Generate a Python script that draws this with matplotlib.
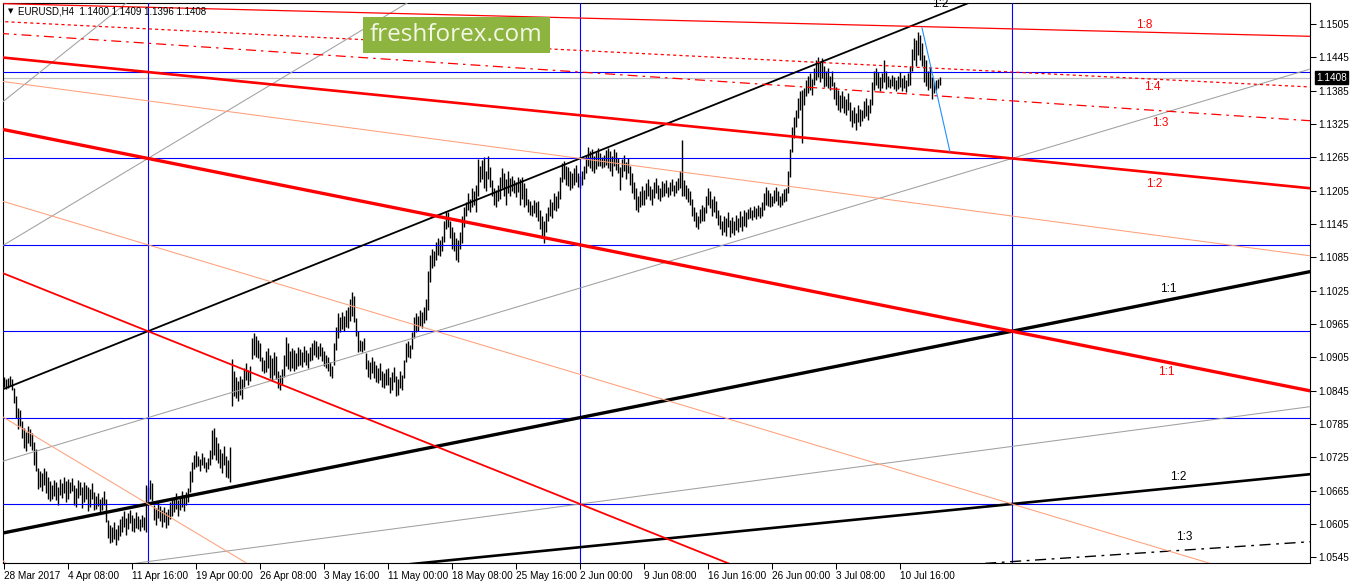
import numpy as np
import matplotlib.pyplot as plt
from matplotlib.patches import Rectangle

plt.rcParams['font.family'] = ['Liberation Sans', 'DejaVu Sans']

symbol = 'EURUSD,H4'
last_ohlc = [1.1400, 1.1409, 1.1396, 1.1408]

# H4 bar highs and lows, in pips (1.0000 = 10000), one value per bar from 28 Mar 2017
highs_pips = [
    10870, 10866, 10868, 10872, 10866, 10850, 10836, 10814, 10810, 10790,
    10778, 10770, 10782, 10776, 10768, 10752, 10740, 10705, 10700, 10696,
    10706, 10700, 10690, 10682, 10676, 10684, 10680, 10672, 10686, 10678,
    10690, 10682, 10686, 10680, 10688, 10676, 10670, 10684, 10680, 10672,
    10680, 10676, 10672, 10668, 10678, 10662, 10656, 10660, 10650, 10654,
    10664, 10650, 10612, 10604, 10600, 10608, 10596, 10604, 10614, 10620,
    10628, 10616, 10624, 10630, 10622, 10616, 10626, 10620, 10614, 10622,
    10618, 10676, 10672, 10684, 10678, 10640, 10634, 10646, 10638, 10630,
    10636, 10626, 10632, 10644, 10650, 10652, 10660, 10648, 10656, 10664,
    10658, 10662, 10670, 10700, 10716, 10730, 10736, 10728, 10722, 10732,
    10726, 10716, 10724, 10738, 10774, 10778, 10762, 10750, 10740, 10732,
    10746, 10728, 10720, 10744, 10902, 10880, 10870, 10862, 10872, 10866,
    10886, 10894, 10882, 10890, 10940, 10948, 10944, 10936, 10930, 10906,
    10900, 10916, 10922, 10910, 10904, 10914, 10908, 10880, 10874, 10884,
    10910, 10942, 10930, 10916, 10922, 10918, 10912, 10924, 10920, 10914,
    10926, 10918, 10912, 10924, 10930, 10936, 10934, 10926, 10930, 10924,
    10916, 10910, 10906, 10896, 10890, 10930, 10960, 10984, 10978, 10986,
    10980, 10990, 10996, 11010, 11022, 11016, 10976, 10952, 10936, 10934,
    10940, 10912, 10900, 10896, 10906, 10898, 10892, 10886, 10894, 10880,
    10876, 10884, 10886, 10870, 10878, 10888, 10872, 10866, 10880, 10874,
    10900, 10930, 10934, 10928, 10950, 10978, 10984, 10980, 10990, 10986,
    10996, 11010, 11060, 11090, 11100, 11096, 11112, 11120, 11116, 11124,
    11150, 11168, 11166, 11150, 11140, 11130, 11120, 11116, 11130, 11160,
    11176, 11184, 11200, 11190, 11210, 11204, 11216, 11262, 11250, 11260,
    11266, 11240, 11268, 11248, 11224, 11210, 11206, 11216, 11230, 11246,
    11236, 11226, 11240, 11228, 11232, 11224, 11220, 11230, 11226, 11230,
    11218, 11210, 11190, 11186, 11180, 11188, 11184, 11186, 11170, 11160,
    11150, 11164, 11176, 11190, 11184, 11200, 11196, 11204, 11230, 11254,
    11258, 11250, 11248, 11240, 11236, 11246, 11252, 11236, 11232, 11240,
    11250, 11270, 11284, 11276, 11280, 11268, 11274, 11282, 11272, 11266,
    11270, 11278, 11282, 11276, 11268, 11280, 11274, 11264, 11248, 11262,
    11270, 11256, 11264, 11250, 11236, 11220, 11210, 11196, 11204, 11214,
    11206, 11218, 11226, 11214, 11208, 11220, 11228, 11216, 11210, 11222,
    11218, 11224, 11212, 11220, 11226, 11216, 11222, 11228, 11240, 11296,
    11224, 11216, 11210, 11204, 11190, 11176, 11166, 11160, 11172, 11180,
    11176, 11196, 11210, 11204, 11190, 11196, 11186, 11170, 11162, 11150,
    11160, 11156, 11166, 11152, 11158, 11150, 11162, 11156, 11168, 11160,
    11170, 11166, 11172, 11176, 11170, 11178, 11174, 11180, 11176, 11184,
    11200, 11212, 11206, 11200, 11196, 11206, 11212, 11204, 11196, 11200,
    11208, 11210, 11240, 11280, 11320, 11338, 11350, 11372, 11384, 11386,
    11390, 11404, 11412, 11416, 11406, 11426, 11440, 11446, 11436, 11444,
    11430, 11420, 11426, 11412, 11420, 11400, 11392, 11386, 11378, 11384,
    11376, 11370, 11380, 11364, 11350, 11356, 11344, 11360, 11352, 11350,
    11366, 11372, 11360, 11370, 11400, 11420, 11426, 11418, 11410, 11416,
    11440, 11420, 11412, 11406, 11414, 11410, 11404, 11412, 11418, 11408,
    11414, 11404, 11416, 11430, 11460, 11480, 11476, 11490, 11486, 11470,
    11450, 11440, 11420, 11428, 11410, 11400, 11404, 11406, 11409,
]
lows_pips = [
    10852, 10848, 10850, 10854, 10846, 10822, 10796, 10776, 10782, 10760,
    10742, 10736, 10750, 10745, 10738, 10712, 10700, 10668, 10672, 10664,
    10676, 10660, 10650, 10646, 10650, 10656, 10648, 10640, 10658, 10652,
    10660, 10644, 10650, 10660, 10664, 10640, 10636, 10652, 10658, 10634,
    10645, 10650, 10628, 10636, 10650, 10630, 10632, 10638, 10626, 10630,
    10640, 10608, 10580, 10570, 10572, 10578, 10568, 10576, 10584, 10590,
    10600, 10586, 10596, 10606, 10592, 10590, 10598, 10596, 10592, 10600,
    10594, 10590, 10640, 10650, 10646, 10612, 10604, 10616, 10610, 10600,
    10608, 10598, 10604, 10614, 10620, 10626, 10632, 10620, 10630, 10636,
    10628, 10640, 10644, 10662, 10680, 10704, 10708, 10710, 10700, 10712,
    10706, 10698, 10704, 10712, 10722, 10730, 10720, 10714, 10706, 10696,
    10712, 10690, 10688, 10680, 10818, 10836, 10832, 10826, 10838, 10830,
    10852, 10864, 10856, 10862, 10902, 10910, 10906, 10904, 10898, 10880,
    10876, 10878, 10886, 10868, 10862, 10874, 10866, 10850, 10846, 10856,
    10870, 10890, 10884, 10880, 10886, 10880, 10884, 10890, 10892, 10888,
    10896, 10892, 10886, 10898, 10900, 10910, 10906, 10902, 10908, 10898,
    10890, 10886, 10880, 10872, 10868, 10892, 10918, 10940, 10950, 10956,
    10952, 10960, 10958, 10970, 10980, 10968, 10944, 10914, 10916, 10914,
    10918, 10884, 10870, 10866, 10876, 10868, 10860, 10858, 10864, 10852,
    10850, 10856, 10856, 10840, 10846, 10860, 10836, 10838, 10850, 10846,
    10868, 10896, 10906, 10904, 10920, 10940, 10950, 10952, 10962, 10958,
    10966, 10972, 10990, 11040, 11066, 11070, 11080, 11090, 11088, 11096,
    11112, 11136, 11140, 11120, 11100, 11096, 11080, 11076, 11100, 11110,
    11140, 11160, 11170, 11166, 11176, 11180, 11166, 11196, 11220, 11226,
    11210, 11204, 11226, 11212, 11196, 11180, 11176, 11186, 11190, 11210,
    11196, 11180, 11200, 11196, 11204, 11200, 11194, 11202, 11180, 11190,
    11176, 11180, 11166, 11162, 11160, 11164, 11158, 11150, 11136, 11120,
    11110, 11130, 11150, 11160, 11156, 11170, 11168, 11174, 11190, 11220,
    11226, 11216, 11214, 11206, 11210, 11216, 11220, 11212, 11210, 11216,
    11226, 11236, 11250, 11246, 11240, 11236, 11244, 11250, 11250, 11246,
    11248, 11252, 11246, 11240, 11232, 11250, 11242, 11236, 11206, 11230,
    11240, 11226, 11236, 11216, 11200, 11190, 11170, 11166, 11176, 11180,
    11180, 11190, 11196, 11188, 11180, 11192, 11200, 11190, 11186, 11194,
    11196, 11200, 11194, 11198, 11204, 11196, 11200, 11206, 11210, 11196,
    11196, 11190, 11184, 11180, 11160, 11150, 11140, 11136, 11146, 11150,
    11150, 11164, 11180, 11174, 11160, 11166, 11156, 11144, 11136, 11126,
    11130, 11124, 11140, 11122, 11128, 11126, 11134, 11130, 11140, 11132,
    11142, 11140, 11154, 11156, 11152, 11158, 11154, 11160, 11156, 11160,
    11170, 11180, 11178, 11176, 11178, 11182, 11186, 11180, 11176, 11180,
    11184, 11186, 11200, 11230, 11274, 11300, 11320, 11336, 11350, 11290,
    11360, 11376, 11380, 11386, 11378, 11396, 11404, 11410, 11400, 11408,
    11392, 11394, 11390, 11386, 11394, 11370, 11360, 11350, 11346, 11354,
    11344, 11342, 11350, 11330, 11320, 11326, 11314, 11328, 11322, 11330,
    11336, 11340, 11332, 11344, 11360, 11386, 11396, 11390, 11384, 11390,
    11400, 11388, 11392, 11390, 11394, 11388, 11384, 11388, 11392, 11384,
    11390, 11382, 11394, 11396, 11420, 11440, 11430, 11450, 11440, 11430,
    11400, 11394, 11386, 11390, 11370, 11380, 11386, 11390, 11396,
]

tick_bars = [0, 32, 64, 96, 128, 160, 192, 224, 256, 288, 320, 352, 384, 416, 448]
tick_labels = ['28 Mar 2017', '4 Apr 08:00', '11 Apr 16:00', '19 Apr 00:00',
               '26 Apr 08:00', '3 May 16:00', '11 May 00:00', '18 May 08:00',
               '25 May 16:00', '2 Jun 00:00', '9 Jun 08:00', '16 Jun 16:00',
               '26 Jun 00:00', '3 Jul 08:00', '10 Jul 16:00']
price_ticks = [1.0545, 1.0605, 1.0665, 1.0725, 1.0785, 1.0845, 1.0905, 1.0965,
               1.1025, 1.1085, 1.1145, 1.1205, 1.1265, 1.1325, 1.1385, 1.1445, 1.1505]

# gann grid: cross point and cell size
gann_bar = 504
gann_price = 1.0952
grid_bars = 216
grid_price = 0.01555

# fan ratios (price cells per time cell)
up_ratios = [4, 3, 2, 1.5, 1, 2 / 3, 1 / 2, 1 / 3]
down_ratios = [4, 3, 2, 1.5, 1, 2 / 3, 1 / 2, 1 / 3, 1 / 4, 1 / 8]

# blue trend line drawn from the 11 Jul high
trend_bars = [459, 473]
trend_prices = [1.1498, 1.1275]

# ---- styles
GRAY = '#A0A0A0'
SALMON = '#FFA07A'
dashdot = (0, (8, 4, 2, 4))
up_styles = [(GRAY, 0.75, '-'), (GRAY, 0.75, '-'), ('black', 1.3, '-'), (GRAY, 0.75, '-'),
             ('black', 2.4, '-'), (GRAY, 0.75, '-'), ('black', 1.9, '-'), ('black', 1.0, dashdot)]
down_styles = [(SALMON, 0.75, '-'), (SALMON, 0.75, '-'), ('red', 1.3, '-'), (SALMON, 0.75, '-'),
               ('red', 2.4, '-'), (SALMON, 0.75, '-'), ('red', 1.9, '-'), ('red', 0.9, dashdot),
               ('red', 0.9, (0, (2.5, 2.5))), ('red', 0.9, '-')]

fig = plt.figure(figsize=(13.5, 5.84), dpi=100)
ax = fig.add_axes([3 / 1350, 21 / 584, 1307 / 1350, 560 / 584])
ax.set_xlim(-0.5, 653)
ax.set_ylim(1.05348, 1.15428)

n = min(len(highs_pips), len(lows_pips))
bars = np.arange(n)
highs = np.array(highs_pips[:n]) / 10000
lows = np.array(lows_pips[:n]) / 10000

# bid line
ax.axhline(last_ohlc[3], color='#C0C0C0', lw=0.9, zorder=1)

ax.vlines(bars, lows, highs, colors='black', lw=1.0, zorder=2)

# gann grid
for k in range(-2, 4):
    ax.axhline(gann_price + k * grid_price, color='#0000FF', lw=0.8, zorder=3)
for k in range(-2, 1):
    ax.axvline(gann_bar + k * grid_bars, color='#0000FF', lw=0.8, zorder=3)

# gann fans
o_bar = gann_bar - 4 * grid_bars
unit = grid_price / grid_bars
x_end = 700
for r, (c, lw, ls) in zip(up_ratios, up_styles):
    p0 = gann_price - 4 * grid_price
    ax.plot([o_bar, x_end], [p0, p0 + r * unit * (x_end - o_bar)], color=c, lw=lw, ls=ls, zorder=4)
for r, (c, lw, ls) in zip(down_ratios, down_styles):
    p0 = gann_price + 4 * grid_price
    ax.plot([o_bar, x_end], [p0, p0 - r * unit * (x_end - o_bar)], color=c, lw=lw, ls=ls, zorder=4)

# fan labels
lab_up = [(2, '1:2', 468, 10), (1, '1:1', 582, 11), (1 / 2, '1:2', 587, 10), (1 / 3, '1:3', 590, 13)]
lab_down = [(1 / 8, '1:8', 570, 7), (1 / 4, '1:4', 574, -8), (1 / 3, '1:3', 578, -12),
            (1 / 2, '1:2', 575, -11), (1, '1:1', 581, -10)]
for r, t, b, off in lab_up:
    p = gann_price - 4 * grid_price + r * unit * (b - o_bar)
    ax.annotate(t, (b, p), xytext=(0, off), textcoords='offset pixels', ha='center', va='center',
                fontsize=8.5, color='black', zorder=5, annotation_clip=False)
for r, t, b, off in lab_down:
    p = gann_price + 4 * grid_price - r * unit * (b - o_bar)
    ax.annotate(t, (b, p), xytext=(0, off), textcoords='offset pixels', ha='center', va='center',
                fontsize=8.5, color='red', zorder=5)

ax.plot(trend_bars, trend_prices, color='#1E90FF', lw=0.8, zorder=5)

# axes look
for s in ax.spines.values():
    s.set_linewidth(0.8)
    s.set_color('black')
ax.yaxis.tick_right()
ax.set_yticks(price_ticks)
ax.set_yticklabels([f'{p:.4f}' for p in price_ticks])
ax.tick_params(axis='y', direction='out', length=4, width=0.75, pad=2, labelsize=7.2)
ax.set_xticks(tick_bars)
ax.set_xticklabels(tick_labels, ha='left')
ax.tick_params(axis='x', direction='out', length=4, width=0.75, pad=2, labelsize=7.2)

# current price tag
ax.annotate(f'{last_ohlc[3]:.4f}', (1.0, last_ohlc[3]), xycoords=ax.get_yaxis_transform(),
            xytext=(6, 0), textcoords='offset pixels', ha='left', va='center',
            fontsize=7.2, color='white', annotation_clip=False,
            bbox=dict(boxstyle='square,pad=0.15', fc='black', ec='black'))

# header
fig.text(8 / 1350, 1 - 11 / 584, '\u25bc', fontsize=5, va='center', family='DejaVu Sans')
fig.text(18 / 1350, 1 - 11 / 584,
         f'{symbol}  ' + ' '.join(f'{v:.4f}' for v in last_ohlc),
         fontsize=7, va='center')

# watermark
fig.add_artist(Rectangle((363 / 1350, 1 - 53 / 584), 187 / 1350, 36 / 584,
                         transform=fig.transFigure, fc='#8DB43E', ec='none', zorder=10))
fig.text(456 / 1350, 1 - 35 / 584, 'freshforex.com', fontsize=17.5, family='Open Sans',
         color='#F4F6E6', ha='center', va='center', zorder=11)

fig.savefig('out.png', dpi=100)
